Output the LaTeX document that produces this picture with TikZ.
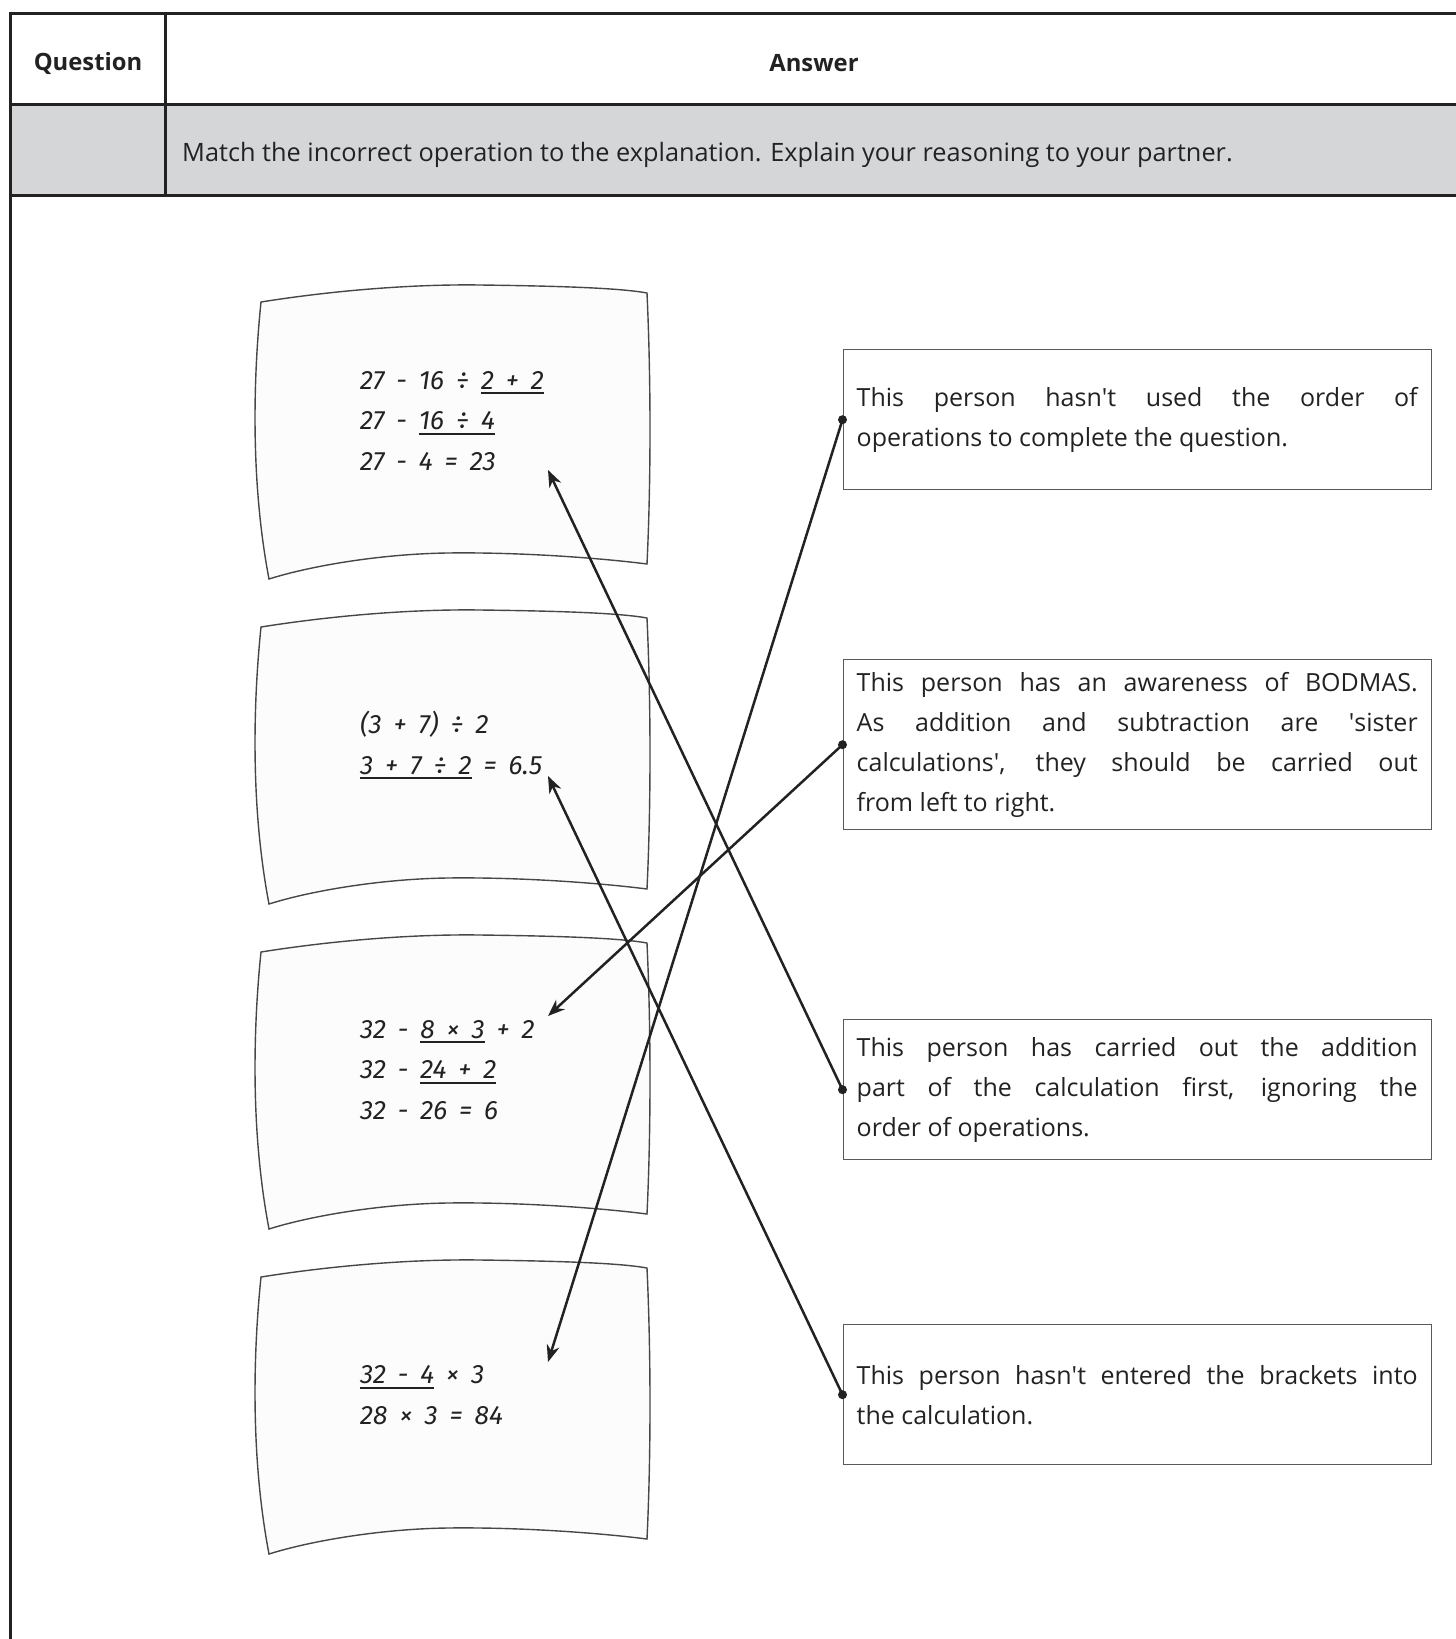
\documentclass[tikz,border=0pt]{standalone}
\usepackage{fontspec}
\setmainfont{Open Sans}
\newfontfamily\handfont{Fira Sans}
\usetikzlibrary{arrows.meta}
\definecolor{tablegray}{HTML}{D5D6D8}
\definecolor{inkc}{HTML}{222222}
\newcommand\uln[1]{\setbox0\hbox{#1}\rlap{\rule[-5pt]{\wd0}{1.7pt}}\box0\relax}
\newcommand\jline[1]{\hbox to 561pt{#1}}
\newcommand\lastline[1]{\hbox to 561pt{#1\hfil}}
\newcommand\expltext[1]{\vbox{\spaceskip=0.26em plus 1em minus 0.12em\relax\baselineskip=40pt #1}}
\newcommand\cardlines[1]{\vbox{\spaceskip=0.45em\relax\baselineskip=40.5pt #1}}
\begin{document}
\begin{tikzpicture}[x=1pt,y=-1pt,
  tline/.style={line width=3pt, draw=inkc},
  cardshape/.style={draw=black!72, line width=1.4pt, fill=black!1},
  cardtext/.style={anchor=base west, inner sep=0pt, text=inkc,
    font=\handfont\itshape\fontsize{26.5}{40.5}\selectfont},
  expl/.style={draw=black!65, line width=1.4pt, minimum width=588pt, minimum height=140pt,
    inner sep=0pt, anchor=north west, text=inkc, font=\fontsize{25}{40}\selectfont},
  conn/.style={line width=2.5pt, draw=inkc, -{Stealth[length=17pt,width=13pt]}},
  hdr/.style={font=\bfseries\fontsize{23.8}{28}\selectfont, text=inkc, inner sep=0pt}
]
\useasboundingbox (0,0) rectangle (1456,1639);
% table
\fill[tablegray] (10,104) rectangle (1456,195);
\draw[tline] (10,13) -- (1456,13);
\draw[tline] (10,104) -- (1456,104);
\draw[tline] (10,195) -- (1456,195);
\draw[tline] (10,11.5) -- (10,1639);
\draw[tline] (165,13) -- (165,195);
\node[hdr] (hq) at (88,63) {Question};
\node[hdr] (ha) at (814,63) {Answer};
\node[anchor=west, inner sep=0pt, text=inkc, font=\fontsize{25.3}{30}\selectfont] (instr) at (182,155)
  {Match the incorrect operation to the explanation. Explain your reasoning to your partner.};
% cards
\foreach \dy in {0,325,650,975}{
  \begin{scope}[shift={(0,\dy)}]
  \draw[cardshape] (261,302) .. controls (330,291) and (410,284) .. (480,285)
     .. controls (560,286) and (620,288) .. (647,293)
     .. controls (651,380) and (651,480) .. (647,564)
     .. controls (600,558) and (520,552) .. (447,553)
     .. controls (380,554) and (310,566) .. (269,579)
     .. controls (252,490) and (252,390) .. (261,302) -- cycle;
  \end{scope}
}
\node[cardtext] (c1) at (360,470) {\cardlines{\hbox{27 - 16 ÷ \uln{2 + 2}}\hbox{27 - \uln{16 ÷ 4}}\hbox{27 - 4 = 23}}};
\node[cardtext] (c2) at (360,774) {\cardlines{\hbox{(3 + 7) ÷ 2}\hbox{\uln{3 + 7 ÷ 2} = 6.5}}};
\node[cardtext] (c3) at (360,1119) {\cardlines{\hbox{32 - \uln{8 × 3} + 2}\hbox{32 - \uln{24 + 2}}\hbox{32 - 26 = 6}}};
\node[cardtext] (c4) at (360,1424) {\cardlines{\hbox{\uln{32 - 4} × 3}\hbox{28 × 3 = 84}}};
% explanation boxes
\node[expl] (e1) at (842.5,349) {\expltext{
  \jline{This person hasn\textquotesingle t used the order of}
  \lastline{operations to complete the question.}}};
\node[expl, minimum height=170pt] (e2) at (842.5,659) {\expltext{
  \jline{This person has an awareness of BODMAS.}
  \jline{As addition and subtraction are \textquotesingle sister}
  \jline{calculations\textquotesingle, they should be carried out}
  \lastline{from left to right.}}};
\node[expl] (e3) at (842.5,1019) {\expltext{
  \jline{This person has carried out the addition}
  \jline{part of the calculation first, ignoring the}
  \lastline{order of operations.}}};
\node[expl] (e4) at (842.5,1324) {\expltext{
  \jline{This person hasn\textquotesingle t entered the brackets into}
  \lastline{the calculation.}}};
% arrow tips
\coordinate (t1) at (548,470);
\coordinate (t2) at (548,776);
\coordinate (t3) at (548,1016);
\coordinate (t4) at (548,1362);
\draw[conn] (e3.west) -- (t1);
\draw[conn] (e1.west) -- (t4);
\draw[conn] (e2.west) -- (t3);
\draw[conn] (e4.west) -- (t2);
\foreach \e in {e1,e2,e3,e4}{\fill[inkc] (\e.west) circle (4.5pt);}
\end{tikzpicture}
\end{document}
